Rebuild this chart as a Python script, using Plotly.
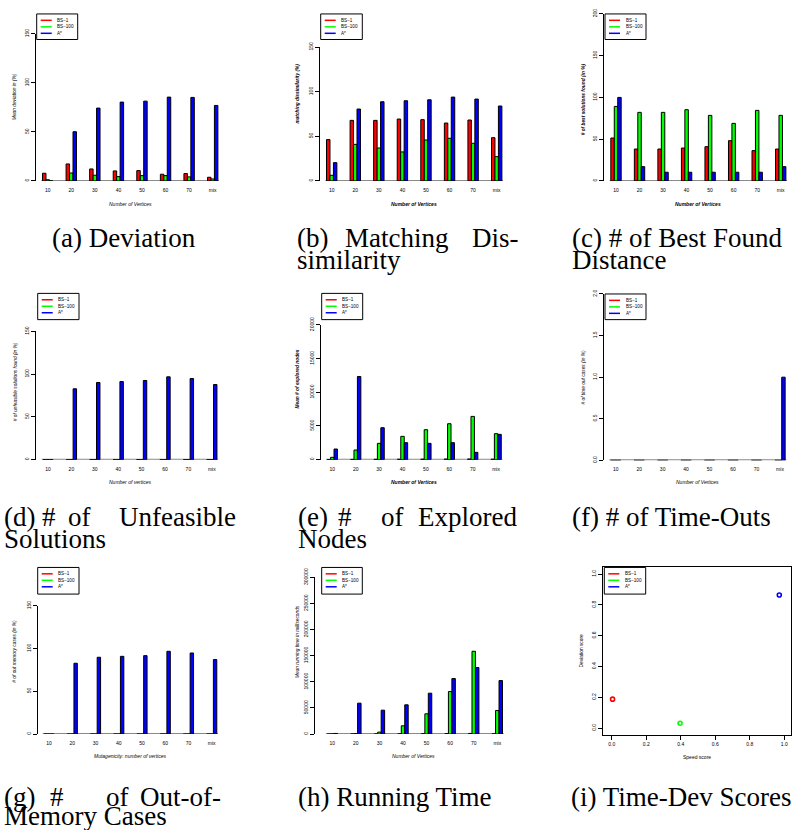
import plotly.graph_objects as go

# ---------------- data ----------------
categories = ["10", "20", "30", "40", "50", "60", "70", "mix"]
series_names = ["BS−1", "BS−100", "A*"]

dev_bs1 = [7.8, 17.3, 12.2, 10.2, 10.5, 6.8, 7.5, 3.7]
dev_bs100 = [1.2, 8.1, 5.8, 4.4, 5.4, 5.4, 4.1, 2.0]
dev_astar = [0.0, 50.2, 74.3, 80.4, 81.4, 85.5, 85.2, 77.0]

mdis_bs1 = [46.3, 67.9, 67.9, 69.4, 68.7, 64.9, 68.3, 48.5]
mdis_bs100 = [6.3, 41.0, 36.9, 32.5, 45.9, 47.8, 42.2, 27.2]
mdis_astar = [20.5, 80.6, 88.8, 89.9, 91.0, 94.0, 91.8, 84.0]

best_bs1 = [51.4, 38.2, 38.2, 39.4, 41.0, 48.2, 36.3, 38.2]
best_bs100 = [89.2, 82.1, 82.1, 85.3, 78.5, 68.9, 84.5, 78.5]
best_astar = [100.0, 17.1, 10.4, 10.4, 10.4, 10.4, 10.4, 17.1]

unf_bs1 = [0, 0, 0, 0, 0, 0, 0, 0]
unf_bs100 = [0, 0, 0, 0, 0, 0, 0, 0]
unf_astar = [0, 82.8, 90.2, 91.3, 92.5, 96.8, 94.8, 87.8]

nodes_bs1 = [20, 40, 60, 70, 80, 90, 100, 70]
nodes_bs100 = [346, 1432, 2420, 3457, 4444, 5333, 6420, 3852]
nodes_astar = [1580, 12346, 4741, 2519, 2420, 2519, 1086, 3753]

tout_bs1 = [0, 0, 0, 0, 0, 0, 0, 0]
tout_bs100 = [0, 0, 0, 0, 0, 0, 0, 0]
tout_astar = [0, 0, 0, 0, 0, 0, 0, 1.0]

oom_bs1 = [0, 0, 0, 0, 0, 0, 0, 0]
oom_bs100 = [0, 0, 0, 0, 0, 0, 0, 0]
oom_astar = [0, 82.8, 89.8, 90.9, 91.7, 96.8, 94.8, 87.1]

time_bs1 = [50, 200, 300, 500, 700, 1000, 1300, 600]
time_bs100 = [300, 1000, 3800, 15900, 38850, 81530, 158600, 45220]
time_astar = [1270, 59240, 45860, 56050, 78340, 106370, 127390, 102550]

speed_score = [0.005, 0.396, 0.971]
deviation_score = [0.188, 0.032, 0.864]

pct_ticks = [0, 50, 100, 150]
best_ticks = [0, 50, 100, 150, 200]
node_ticks = [0, 5000, 10000, 15000, 20000]
tout_ticks = [0, 0.5, 1.0, 1.5, 2.0]
tout_labels = ["0.0", "0.5", "1.0", "1.5", "2.0"]
time_ticks = [0, 50000, 100000, 150000, 200000, 250000, 300000]
score_ticks = [0, 0.2, 0.4, 0.6, 0.8, 1.0]
score_labels = ["0.0", "0.2", "0.4", "0.6", "0.8", "1.0"]

# ---------------- styling / geometry ----------------
W, H = 806, 830
COLORS = ["#FF0000", "#00FF00", "#0000FF"]
SANS = "Liberation Sans"
SERIF = "Liberation Serif"
BARGAP = 0.56
# vertical calibration of layout pixel positions
V_OFF, V_SCALE = 7.75, 0.9875


def X(px):
    return px / W


def Y(py):
    return 1 - ((py - V_OFF) / V_SCALE) / H


def styled(text, style):
    if style == "bi":
        return "<b><i>" + text + "</i></b>"
    if style == "i":
        return "<i>" + text + "</i>"
    return text


panels = [
    dict(data=(dev_bs1, dev_bs100, dev_astar), axis_px=36, first_c=47.7, spacing=23.57,
         y0=180, ytop_px=32.7, ytop=150, tickvals=pct_ticks, ticktext=[str(v) for v in pct_ticks],
         ytitle="Mean deviation in (%)", ytpos=(14, 96), ystyle="i",
         xtitle="Number of Vertices", xtpos=(130, 202.7), xstyle="i",
         legend=(36.7, 12.7, 77.7, 38.3)),
    dict(data=(mdis_bs1, mdis_bs100, mdis_astar), axis_px=320, first_c=331.7, spacing=23.57,
         y0=180, ytop_px=46, ytop=150, tickvals=pct_ticks, ticktext=[str(v) for v in pct_ticks],
         ytitle="matching dissimilarity (%)", ytpos=(298, 92.5), ystyle="bi",
         xtitle="Number of Vertices", xtpos=(414, 202.7), xstyle="bi",
         legend=(320.7, 12.7, 362.3, 38.3)),
    dict(data=(best_bs1, best_bs100, best_astar), axis_px=604, first_c=616, spacing=23.53,
         y0=180, ytop_px=12.7, ytop=200, tickvals=best_ticks, ticktext=[str(v) for v in best_ticks],
         ytitle="# of best solutions found (in %)", ytpos=(583.3, 98), ystyle="bi",
         xtitle="Number of Vertices", xtpos=(698, 202.7), xstyle="bi",
         legend=(605, 12.7, 646, 38.3)),
    dict(data=(unf_bs1, unf_bs100, unf_astar), axis_px=36, first_c=48, spacing=23.4,
         y0=459.3, ytop_px=330.7, ytop=150, tickvals=pct_ticks, ticktext=[str(v) for v in pct_ticks],
         ytitle="# of unfeasible solutions found (in %)", ytpos=(15, 381.7), ystyle="i",
         xtitle="Number of vertices", xtpos=(130, 481.7), xstyle="i",
         legend=(37.7, 292.7, 79, 319)),
    dict(data=(nodes_bs1, nodes_bs100, nodes_astar), axis_px=321, first_c=332.3, spacing=23.4,
         y0=459.3, ytop_px=324.3, ytop=20000, tickvals=node_ticks, ticktext=[str(v) for v in node_ticks],
         ytitle="Mean # of explored nodes", ytpos=(298, 379), ystyle="bi",
         xtitle="Number of Vertices", xtpos=(414, 481.7), xstyle="bi",
         legend=(321.7, 292.7, 362.7, 319)),
    dict(data=(tout_bs1, tout_bs100, tout_astar), axis_px=604.3, first_c=615.7, spacing=23.47,
         y0=460, ytop_px=293.3, ytop=2, tickvals=tout_ticks, ticktext=tout_labels,
         ytitle="# of time out cases (in %)", ytpos=(583.3, 376.7), ystyle="i",
         xtitle="Number of Vertices", xtpos=(697, 481.7), xstyle="i",
         legend=(605, 293.3, 646, 319)),
    dict(data=(oom_bs1, oom_bs100, oom_astar), axis_px=37.7, first_c=49, spacing=23.24,
         y0=734.3, ytop_px=605.7, ytop=150, tickvals=pct_ticks, ticktext=[str(v) for v in pct_ticks],
         ytitle="# of out memory cases (in %)", ytpos=(15, 651.7), ystyle="i",
         xtitle="Mutagenicity: number of vertices", xtpos=(130, 756.7), xstyle="i",
         legend=(37.7, 567.3, 79, 594)),
    dict(data=(time_bs1, time_bs100, time_astar), axis_px=315, first_c=332.3, spacing=23.57,
         y0=734.3, ytop_px=577.3, ytop=300000, tickvals=time_ticks, ticktext=[str(v) for v in time_ticks],
         ytitle="Mean running time in milliseconds", ytpos=(298, 642), ystyle="i",
         xtitle="Number of Vertices", xtpos=(414, 756.7), xstyle="i",
         legend=(321.7, 567.3, 362.3, 594)),
]

fig = go.Figure()
shapes = []
annotations = []
layout = {}


def add_legend(box):
    l, t, r, b = box
    shapes.append(dict(type="rect", xref="paper", yref="paper", x0=X(l), x1=X(r), y0=Y(b), y1=Y(t),
                       line=dict(color="black", width=1), fillcolor="white", layer="above"))
    for k, name in enumerate(series_names):
        yy = t + 6.4 + 6.5 * k
        shapes.append(dict(type="line", xref="paper", yref="paper", x0=X(l + 4), x1=X(l + 15),
                           y0=Y(yy), y1=Y(yy), line=dict(color=COLORS[k], width=1.5), layer="above"))
        annotations.append(dict(text=name, x=X(l + 18.5), y=Y(yy), xref="paper", yref="paper",
                                xanchor="left", yanchor="middle", showarrow=False,
                                font=dict(family=SANS, size=4.6, color="black")))


n_cat = len(categories)
for i, p in enumerate(panels):
    n = i + 1
    xa = "x" if n == 1 else f"x{n}"
    ya = "y" if n == 1 else f"y{n}"
    for k, vals in enumerate(p["data"]):
        fig.add_trace(go.Bar(x=categories, y=vals, xaxis=xa, yaxis=ya, showlegend=False,
                             marker=dict(color=COLORS[k], line=dict(color="black", width=1))))
    last_c = p["first_c"] + (n_cat - 1) * p["spacing"]
    right_px = last_c + p["spacing"] / 2
    lo = -(p["first_c"] - p["axis_px"]) / p["spacing"]
    hi = (n_cat - 1) + 0.5
    layout["xaxis" if n == 1 else f"xaxis{n}"] = dict(
        domain=[X(p["axis_px"]), X(right_px)], range=[lo, hi], type="category",
        categoryarray=categories, categoryorder="array", anchor=ya,
        showgrid=False, zeroline=False, showline=False, ticks="outside", ticklen=4,
        tickcolor="rgba(0,0,0,0)",
        tickfont=dict(family=SANS, size=5, color="black"))
    layout["yaxis" if n == 1 else f"yaxis{n}"] = dict(
        domain=[Y(p["y0"]), Y(p["ytop_px"])], range=[0, p["ytop"]], anchor=xa,
        showgrid=False, zeroline=False, showline=True, linecolor="black", linewidth=1,
        ticks="outside", ticklen=4, tickwidth=1, tickcolor="black", tickangle=-90,
        tickvals=p["tickvals"], ticktext=p["ticktext"],
        tickfont=dict(family=SANS, size=5, color="black"))
    # gray baseline under bars
    half = (1 - BARGAP) / 2
    shapes.append(dict(type="line", xref=xa, yref=ya, x0=-half - 0.05, x1=(n_cat - 1) + half + 0.05,
                       y0=0, y1=0, line=dict(color="#8a8a8a", width=2), layer="below"))
    annotations.append(dict(text=styled(p["ytitle"], p["ystyle"]), x=X(p["ytpos"][0]), y=Y(p["ytpos"][1]),
                            xref="paper", yref="paper", textangle=-90, showarrow=False,
                            xanchor="center", yanchor="middle",
                            font=dict(family=SANS, size=4.8, color="black")))
    annotations.append(dict(text=styled(p["xtitle"], p["xstyle"]), x=X(p["xtpos"][0]), y=Y(p["xtpos"][1]),
                            xref="paper", yref="paper", showarrow=False,
                            xanchor="center", yanchor="middle",
                            font=dict(family=SANS, size=5, color="black")))
    add_legend(p["legend"])

# ---------------- scatter panel (i) ----------------
x0px, x1px = 611.7, 784.3
y0px, y1px = 728.3, 574.0
box = (603.3, 566.7, 790.7, 735.0)
sx = x1px - x0px
sy = y0px - y1px
for k, name in enumerate(series_names):
    fig.add_trace(go.Scatter(x=[speed_score[k]], y=[deviation_score[k]], mode="markers",
                             xaxis="x9", yaxis="y9", showlegend=False,
                             marker=dict(symbol="circle-open", size=4, color=COLORS[k],
                                         line=dict(color=COLORS[k], width=1.6))))
layout["xaxis9"] = dict(domain=[X(box[0]), X(box[2])],
                        range=[(box[0] - x0px) / sx, 1 + (box[2] - x1px) / sx], anchor="y9",
                        showgrid=False, zeroline=False, showline=True, mirror=True,
                        linecolor="black", linewidth=1, ticks="outside", ticklen=4, tickcolor="black",
                        tickvals=score_ticks, ticktext=score_labels,
                        tickfont=dict(family=SANS, size=5, color="black"))
layout["yaxis9"] = dict(domain=[Y(box[3]), Y(box[1])],
                        range=[-(box[3] - y0px) / sy, 1 + (y1px - box[1]) / sy], anchor="x9",
                        showgrid=False, zeroline=False, showline=True, mirror=True,
                        linecolor="black", linewidth=1, ticks="outside", ticklen=4, tickcolor="black",
                        tickangle=-90, tickvals=score_ticks, ticktext=score_labels,
                        tickfont=dict(family=SANS, size=5, color="black"))
annotations.append(dict(text="Deviation score", x=X(581.7), y=Y(650.7), xref="paper", yref="paper",
                        textangle=-90, showarrow=False, xanchor="center", yanchor="middle",
                        font=dict(family=SANS, size=4.8, color="black")))
annotations.append(dict(text="Speed score", x=X(697.3), y=Y(757.3), xref="paper", yref="paper",
                        showarrow=False, xanchor="center", yanchor="middle",
                        font=dict(family=SANS, size=5, color="black")))
add_legend((604.3, 567.3, 645.7, 594))

# ---------------- captions ----------------
captions = [
    ("(a) Deviation", 51, 237, "left"),
    ("(b)", 296, 237, "left"), ("Matching", 396.5, 237, "center"), ("Dis-", 520, 237, "right"),
    ("similarity", 296, 259, "left"),
    ("(c) # of Best Found", 571, 237, "left"),
    ("Distance", 571, 259, "left"),
    ("(d)", 3, 517, "left"), ("#", 49, 517, "center"), ("of", 79.5, 517, "center"),
    ("Unfeasible", 237.5, 517, "right"),
    ("Solutions", 3, 539, "left"),
    ("(e)", 297, 517, "left"), ("#", 344.5, 517, "center"), ("of", 392, 517, "center"),
    ("Explored", 518, 517, "right"),
    ("Nodes", 297, 539, "left"),
    ("(f) # of Time-Outs", 571, 517, "left"),
    ("(g)", 3, 797, "left"), ("#", 57, 797, "center"), ("of", 117, 797, "center"),
    ("Out-of-", 222, 797, "right"),
    ("Memory Cases", 3, 816.5, "left"),
    ("(h) Running Time", 297, 797, "left"),
    ("(i) Time-Dev Scores", 570, 797, "left"),
]
for text, cx, cy, anc in captions:
    annotations.append(dict(text=text, x=X(cx), y=Y(cy), xref="paper", yref="paper",
                            xanchor=anc, yanchor="middle", showarrow=False, borderpad=0,
                            font=dict(family=SERIF, size=27, color="black")))

fig.update_layout(
    width=W, height=H, margin=dict(l=0, r=0, t=0, b=0),
    paper_bgcolor="white", plot_bgcolor="white",
    barmode="group", bargap=BARGAP, bargroupgap=0,
    shapes=shapes, annotations=annotations, showlegend=False,
    **layout,
)

PIN_PAGE = (
    "document.documentElement.style.margin='0px';"
    "document.body.style.margin='0px';"
    "document.body.style.overflow='hidden';"
    "var gd=document.getElementsByClassName('plotly-graph-div')[0];"
    "gd.style.position='fixed';gd.style.top='0px';gd.style.left='0px';"
)
fig.write_html("out.html", config={"displayModeBar": False}, post_script=PIN_PAGE)
